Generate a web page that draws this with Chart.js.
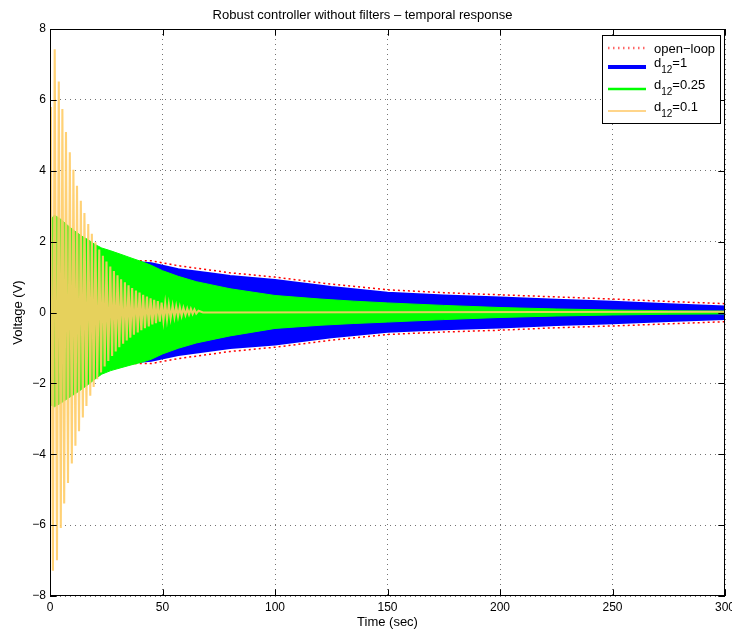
<!DOCTYPE html>
<html>
<head>
<meta charset="utf-8">
<script src="https://cdn.jsdelivr.net/npm/chart.js@4.4.1/dist/chart.umd.min.js"></script>
<style>
  html, body { margin: 0; padding: 0; background: #fff; }
</style>
</head>
<body>
<canvas id="responseChart" width="732" height="630"></canvas>
<script>
const FONT = "'Liberation Sans', Arial, Helvetica, sans-serif";

const xTicks = [0, 50, 100, 150, 200, 250, 300];
const yTicks = [-8, -6, -4, -2, 0, 2, 4, 6, 8];

const legendLabels = ['open\u2212loop', '=1', '=0.25', '=0.1'];

// d12=0.1 : individual swings (sec, V)
const orangeTimes = [
  0, 0.4, 1.3, 2.1, 3.1, 3.9, 4.8, 5.5, 6.3, 7.1, 8.0, 8.8, 9.7, 10.4, 11.3, 12.0,
  12.9, 13.7, 14.6, 15.3, 16.2, 17.0, 17.9, 18.6, 19.4, 20.2, 21.0, 21.9, 22.7, 23.5,
  24.3, 25.1, 25.9, 26.8, 27.6, 28.4, 29.2, 30.0, 30.8, 31.6, 32.5, 33.3, 34.1, 34.9,
  35.7, 36.5, 37.3, 38.2, 39.0, 39.8, 40.6, 41.4, 42.2, 43.1, 43.9, 44.7, 45.5, 46.3,
  47.1, 47.9, 48.8, 49.6, 50.4, 51.2, 52.0, 52.8, 53.6, 54.5, 55.3, 56.1, 56.9, 57.7,
  58.5, 59.3, 60.2, 61.0, 61.8, 62.6, 63.4, 64.2, 65.0, 66.0, 68.0, 300
];
const orangeValues = [
  0, 5.8, -7.29, 7.43, -6.99, 6.52, -6.08, 5.74, -5.39, 5.09, -4.81, 4.52, -4.26, 4.03, -3.76, 3.58,
  -3.35, 3.15, -2.96, 2.81, -2.64, 2.50, -2.35, 2.22, -2.10, 1.98, -1.88, 1.78, -1.69, 1.60,
  -1.52, 1.44, -1.37, 1.30, -1.23, 1.17, -1.10, 1.05, -0.98, 0.94, -0.88, 0.85, -0.79, 0.77,
  -0.71, 0.69, -0.63, 0.62, -0.56, 0.56, -0.50, 0.50, -0.44, 0.45, -0.39, 0.40, -0.34, 0.36,
  -0.30, 0.32, -0.26, 0.28, -0.22, 0.25, -0.19, 0.22, -0.16, 0.19, -0.13, 0.17, -0.11, 0.15,
  -0.09, 0.13, -0.07, 0.11, -0.05, 0.10, -0.04, 0.08, -0.03, 0.05, 0.0, 0.02
];

// d12=0.25 : envelope of the dense oscillation
const greenTimes = [0, 2, 5, 8, 11, 14, 17, 20, 23, 27, 32, 36, 41, 45, 50, 57, 65, 80, 100, 120, 135, 150, 175, 200, 225, 250, 275, 300];
const greenUpper = [2.60, 2.75, 2.62, 2.45, 2.30, 2.16, 2.05, 1.92, 1.82, 1.74, 1.63, 1.54, 1.43, 1.33, 1.18, 1.02, 0.87, 0.67, 0.48, 0.38, 0.32, 0.27, 0.20, 0.14, 0.10, 0.07, 0.05, 0.04];
const greenLower = [-2.60, -2.66, -2.55, -2.42, -2.30, -2.17, -2.03, -1.88, -1.74, -1.64, -1.55, -1.48, -1.40, -1.32, -1.17, -1.01, -0.86, -0.66, -0.45, -0.36, -0.31, -0.27, -0.20, -0.14, -0.10, -0.07, -0.05, -0.04];

// d12=1 and open-loop : envelopes
const envTimes = [0, 1, 20, 35, 45, 57, 71, 80, 100, 125, 150, 175, 200, 225, 250, 275, 300];
const blueUpper = [0, 1.55, 1.50, 1.44, 1.39, 1.22, 1.11, 1.03, 0.92, 0.72, 0.56, 0.48, 0.42, 0.36, 0.30, 0.23, 0.17];
const blueLower = [-1.6, -1.55, -1.48, -1.42, -1.36, -1.20, -1.08, -1.00, -0.90, -0.70, -0.54, -0.47, -0.42, -0.35, -0.30, -0.24, -0.18];
const redUpper = [1.60, 1.60, 1.56, 1.46, 1.46, 1.32, 1.20, 1.12, 1.00, 0.80, 0.64, 0.56, 0.50, 0.44, 0.38, 0.31, 0.25];
const redLower = [-1.60, -1.60, -1.54, -1.44, -1.44, -1.30, -1.18, -1.10, -0.98, -0.78, -0.62, -0.55, -0.50, -0.43, -0.38, -0.32, -0.26];

const pts = (xs, ys) => xs.map((x, i) => ({ x: x, y: ys[i] }));

const line = (data, color, width, extra) => Object.assign({
  data: data,
  borderColor: color,
  backgroundColor: color,
  borderWidth: width,
  pointRadius: 0,
  tension: 0,
  fill: false
}, extra || {});

// box, inward ticks and legend drawn MATLAB-style on top of the data
const frame = {
  id: 'frame',
  afterDatasetsDraw(chart) {
    const { ctx, chartArea: a, scales } = chart;
    const tl = 6.7;
    ctx.save();
    ctx.strokeStyle = '#000';
    ctx.lineWidth = 1;
    ctx.strokeRect(a.left + 0.5, a.top + 0.5, a.right - a.left - 1, a.bottom - a.top - 1);
    ctx.beginPath();
    xTicks.forEach(v => {
      const px = Math.round(scales.x.getPixelForValue(v)) + 0.5;
      ctx.moveTo(px, a.bottom); ctx.lineTo(px, a.bottom - tl);
      ctx.moveTo(px, a.top); ctx.lineTo(px, a.top + tl);
    });
    yTicks.forEach(v => {
      const py = Math.round(scales.y.getPixelForValue(v)) + 0.5;
      ctx.moveTo(a.left, py); ctx.lineTo(a.left + tl, py);
      ctx.moveTo(a.right, py); ctx.lineTo(a.right - tl, py);
    });
    ctx.stroke();

    // legend
    const bx = 602, by = 35, bw = 118, bh = 88;
    ctx.fillStyle = '#fff';
    ctx.fillRect(bx, by, bw, bh);
    ctx.strokeRect(bx + 0.5, by + 0.5, bw, bh);
    const rows = [
      { y: 48, color: 'rgba(255,0,0,0.6)', width: 2.5, dash: [1.5, 3.5] },
      { y: 67, color: '#0000ff', width: 4, dash: [] },
      { y: 89, color: '#00ff00', width: 2.5, dash: [] },
      { y: 111, color: '#ffd58a', width: 2, dash: [] }
    ];
    rows.forEach((r, i) => {
      ctx.beginPath();
      ctx.setLineDash(r.dash);
      ctx.strokeStyle = r.color;
      ctx.lineWidth = r.width;
      ctx.moveTo(608, r.y); ctx.lineTo(646, r.y);
      ctx.stroke();
      ctx.setLineDash([]);
      ctx.fillStyle = '#000';
      ctx.textBaseline = 'alphabetic';
      ctx.textAlign = 'left';
      ctx.font = '13px ' + FONT;
      if (i === 0) {
        ctx.fillText(legendLabels[0], 654, r.y + 4.5);
      } else {
        const base = r.y - 0.5;
        ctx.fillText('d', 654, base);
        let x = 654 + ctx.measureText('d').width;
        ctx.font = '10px ' + FONT;
        ctx.fillText('12', x, base + 6.5);
        x += ctx.measureText('12').width;
        ctx.font = '13px ' + FONT;
        ctx.fillText(legendLabels[i], x, base);
      }
    });
    ctx.restore();
  }
};

new Chart(document.getElementById('responseChart'), {
  type: 'line',
  data: {
    datasets: [
      line(pts(orangeTimes, orangeValues), 'rgba(255,204,102,0.9)', 2.1, { order: 0 }),
      line(pts(greenTimes, greenUpper), '#00ff00', 1, { order: 1, fill: '+1' }),
      line(pts(greenTimes, greenLower), '#00ff00', 1, { order: 1 }),
      line(pts(envTimes, blueUpper), '#0000ff', 2, { order: 2, fill: '+1' }),
      line(pts(envTimes, blueLower), '#0000ff', 2, { order: 2 }),
      line(pts(envTimes, redUpper), '#ff0000', 1.5, { order: 3, borderDash: [2, 3] }),
      line(pts(envTimes, redLower), '#ff0000', 1.5, { order: 3, borderDash: [2, 3] })
    ]
  },
  options: {
    responsive: false,
    animation: false,
    layout: { padding: { left: 0, right: 7, top: 0, bottom: 0 } },
    plugins: {
      legend: { display: false },
      tooltip: { enabled: false },
      title: {
        display: true,
        text: 'Robust controller without filters \u2013 temporal response',
        color: '#000',
        font: { family: FONT, size: 13, weight: 'normal' },
        padding: { top: 8, bottom: 5.4 }
      }
    },
    scales: {
      x: {
        type: 'linear',
        min: 0,
        max: 300,
        afterBuildTicks: s => { s.ticks = xTicks.map(v => ({ value: v })); },
        afterFit: s => { s.height = 34; s.paddingLeft = 0; s.paddingRight = 0; },
        ticks: { color: '#000', padding: 4, maxRotation: 0, font: { family: FONT, size: 12 } },
        grid: { color: 'rgba(0,0,0,0.55)', lineWidth: 1, drawTicks: false },
        border: { display: false, dash: [1, 4] },
        title: {
          display: true, text: 'Time (sec)', color: '#000',
          font: { family: FONT, size: 13 }, padding: { top: 0, bottom: 0 }
        }
      },
      y: {
        type: 'linear',
        min: -8,
        max: 8,
        afterBuildTicks: s => { s.ticks = yTicks.map(v => ({ value: v })); },
        afterFit: s => { s.width = 50; s.paddingTop = 0; s.paddingBottom = 0; },
        ticks: {
          color: '#000', padding: 4, font: { family: FONT, size: 12 },
          callback: v => v < 0 ? '\u2212' + (-v) : String(v)
        },
        grid: { color: 'rgba(0,0,0,0.55)', lineWidth: 1, drawTicks: false },
        border: { display: false, dash: [1, 4] },
        title: {
          display: true, text: 'Voltage (V)', color: '#000',
          font: { family: FONT, size: 13 }, padding: { top: 11, bottom: 0 }
        }
      }
    }
  },
  plugins: [frame]
});
</script>
</body>
</html>
